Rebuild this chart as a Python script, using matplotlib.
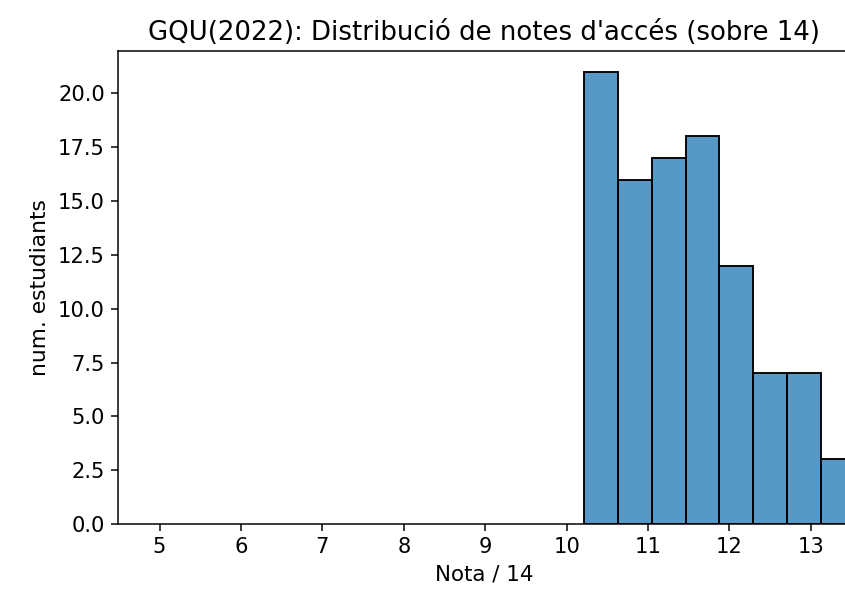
import matplotlib
matplotlib.use("Agg")
import matplotlib.pyplot as plt

# histogram bins (bin edges and counts)
bin_edges = [10.215, 10.63, 11.045, 11.46, 11.875, 12.29, 12.705, 13.12, 13.535]
counts = [21, 16, 17, 18, 12, 7, 7, 3]

title = "GQU(2022): Distribució de notes d'accés (sobre 14)"
xlabel = "Nota / 14"
ylabel = "num. estudiants"

dpi = 135
fig = plt.figure(figsize=(845 / dpi, 590 / dpi), dpi=dpi)
# the right edge of the axes runs past the picture, as in the cropped original
ax = fig.add_axes([118 / 845, 66 / 590, 732 / 845, 473 / 590])

widths = [b - a for a, b in zip(bin_edges[:-1], bin_edges[1:])]
ax.bar(bin_edges[:-1], counts, width=widths, align="edge",
       color=(0.1216, 0.4667, 0.7059, 0.75), edgecolor="black", linewidth=1.0)

ax.set_xlim(4.49, 13.48)
ax.set_ylim(0, 21.97)
ax.set_xticks(range(5, 14))
ax.tick_params(labelsize=11.2)
ax.set_title(title, fontsize=13.9)
ax.set_xlabel(xlabel, fontsize=11.4)
ax.set_ylabel(ylabel, fontsize=11.6)

fig.savefig("out.png", dpi=dpi)
